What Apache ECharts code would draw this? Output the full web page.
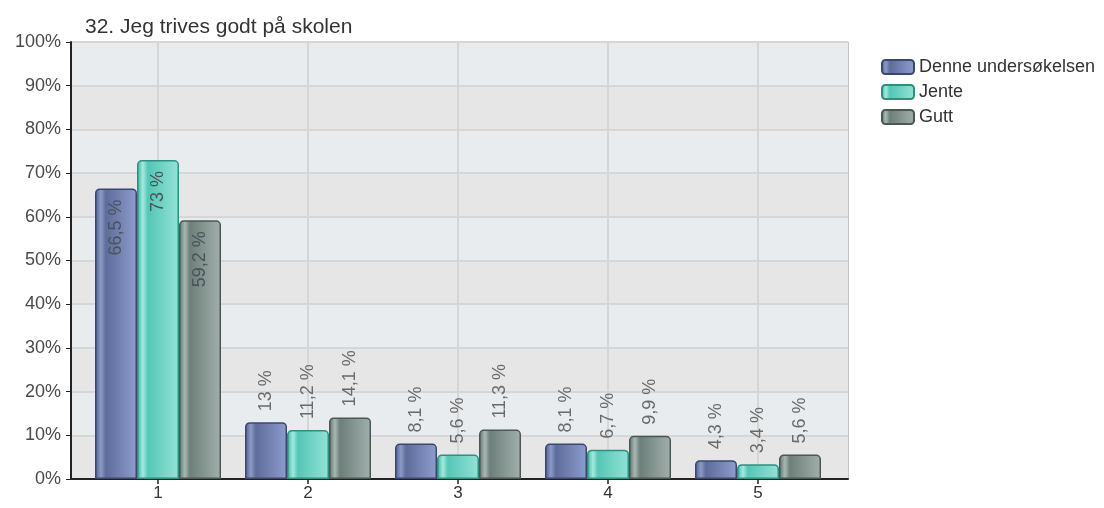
<!DOCTYPE html>
<html>
<head>
<meta charset="utf-8">
<script src="https://cdn.jsdelivr.net/npm/echarts@6/dist/echarts.min.js"></script>
<style>
html,body{margin:0;padding:0;background:#fff;}
#c{width:1104px;height:508px;}
</style>
</head>
<body>
<div id="c"></div>
<script>
var title = '32. Jeg trives godt på skolen';
var categories = ['1', '2', '3', '4', '5'];
var seriesNames = ['Denne undersøkelsen', 'Jente', 'Gutt'];
var denne = [66.5, 13, 8.1, 8.1, 4.3];
var jente = [73, 11.2, 5.6, 6.7, 3.4];
var gutt = [59.2, 14.1, 11.3, 9.9, 5.6];
var yTicks = [0, 10, 20, 30, 40, 50, 60, 70, 80, 90, 100];

var FONT = 'Liberation Sans, Arial, sans-serif';
var styles = [
  {stops: ['#4f5d8a', '#8c9ac6', '#5e6c9b', '#8d9dcd'], border: '#3c4770'},
  {stops: ['#3aae9e', '#a3ebdf', '#55c6b6', '#93e3d6'], border: '#2f8e80'},
  {stops: ['#5c6e69', '#aab8b4', '#6d7f7a', '#a2b0ac'], border: '#4a5854'}
];

function grad(s) {
  return new echarts.graphic.LinearGradient(0, 0, 1, 0, [
    {offset: 0, color: s[0]},
    {offset: 0.14, color: s[1]},
    {offset: 0.26, color: s[2]},
    {offset: 1, color: s[3]}
  ]);
}
function fmt(v) { return String(v).replace('.', ',') + ' %'; }

function makeSeries(name, vals, idx) {
  var st = styles[idx];
  return {
    name: name,
    type: 'bar',
    xAxisIndex: 1,
    yAxisIndex: 1,
    barWidth: 42,
    barGap: '0%',
    data: vals.map(function (v) {
      var inside = v > 30;
      return {
        value: v,
        label: inside ? {
          show: true, position: 'insideTop', rotate: 90, align: 'right',
          verticalAlign: 'middle', distance: 11, color: '#4a5358'
        } : {
          show: true, position: 'top', rotate: 90, align: 'left',
          verticalAlign: 'middle', distance: 11, color: '#6a6a6a'
        }
      };
    }),
    label: {fontSize: 18, fontFamily: FONT, formatter: function (p) { return fmt(p.value); }},
    itemStyle: {color: grad(st.stops), borderColor: st.border, borderWidth: 1.5, borderRadius: [4, 4, 0, 0]}
  };
}

var chart = echarts.init(document.getElementById('c'));
chart.setOption({
  animation: false,
  textStyle: {fontFamily: FONT},
  title: {text: title, left: 80, top: 12, textStyle: {fontSize: 21, fontWeight: 'normal', color: '#333', fontFamily: FONT}},
  legend: {
    orient: 'vertical', left: 876, top: 53, itemGap: 7, itemWidth: 32, itemHeight: 14,
    icon: 'roundRect', data: seriesNames,
    textStyle: {fontSize: 18, color: '#333', fontFamily: FONT}
  },
  grid: [
    {left: 71, right: 256, top: 42, bottom: 29, show: true, backgroundColor: 'transparent', borderColor: '#8a8a8a', borderWidth: 1},
    {left: 83, right: 271, top: 42, bottom: 29},
    {left: 158, right: 346, top: 42, bottom: 29}
  ],
  xAxis: [
    {gridIndex: 0, type: 'category', data: categories, show: true,
      axisLine: {show: true, lineStyle: {color: '#222', width: 2}}, axisTick: {show: false}, axisLabel: {show: false}, splitLine: {show: false}},
    {gridIndex: 1, type: 'category', data: categories, show: false},
    {gridIndex: 2, type: 'category', data: categories, boundaryGap: false,
      axisLine: {show: false},
      axisTick: {show: true, length: 5, lineStyle: {color: '#222', width: 1.5}},
      axisLabel: {fontSize: 17, color: '#333', margin: 6, fontFamily: FONT},
      splitLine: {show: true, lineStyle: {color: '#d6d6d6', width: 2}}}
  ],
  yAxis: [
    {gridIndex: 0, type: 'value', min: 0, max: 100, interval: 10,
      axisLine: {show: true, lineStyle: {color: '#222', width: 2}},
      axisTick: {show: true, length: 5, lineStyle: {color: '#222'}},
      axisLabel: {fontSize: 18, color: '#4a4a4a', margin: 10, fontFamily: FONT, formatter: function (v) { return yTicks.indexOf(v) >= 0 ? v + '%' : ''; }},
      splitLine: {show: true, lineStyle: {color: '#d6d6d6', width: 2}},
      splitArea: {show: true, areaStyle: {color: ['#e6e6e6', '#e8ecef']}}},
    {gridIndex: 1, type: 'value', min: 0, max: 100, show: false, splitLine: {show: false}},
    {gridIndex: 2, type: 'value', min: 0, max: 100, show: false, splitLine: {show: false}}
  ],
  series: [
    makeSeries(seriesNames[0], denne, 0),
    makeSeries(seriesNames[1], jente, 1),
    makeSeries(seriesNames[2], gutt, 2)
  ]
});
</script>
</body>
</html>
